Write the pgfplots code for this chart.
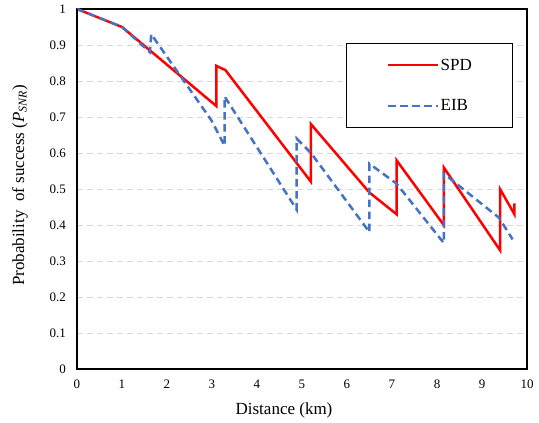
\documentclass[border=0pt]{standalone}
\usepackage{fontspec}
\setmainfont{Liberation Serif}
\usepackage{pgfplots}
\pgfplotsset{compat=1.18}
\definecolor{spdred}{HTML}{FF0000}
\definecolor{eibblue}{HTML}{4472C4}
\definecolor{gridgray}{HTML}{D9D9D9}
\begin{document}
\begin{tikzpicture}
\begin{axis}[name=ax,
    width=450pt, height=360pt, scale only axis,
    xmin=0, xmax=10, ymin=0, ymax=1,
    xtick={0,1,2,3,4,5,6,7,8,9,10},
    ytick={0,0.1,0.2,0.3,0.4,0.5,0.6,0.7,0.8,0.9,1},
    /pgf/number format/assume math mode=true,
    yticklabel style={/pgf/number format/fixed, /pgf/number format/precision=1,
        inner xsep=0pt, xshift=-11pt},
    xticklabel style={inner ysep=0pt, yshift=-11pt},
    tick label style={font=\fontsize{13}{15}\selectfont},
    major tick length=0pt,
    axis line style={black, line width=1.2pt},
    ymajorgrids,
    major grid style={gridgray, line width=0.8pt, dash pattern=on 6pt off 4pt},
    xlabel={Distance (km)},
    ylabel={Probability\ \ of success (\textit{P}\textsubscript{\textit{SNR}})},
    label style={font=\fontsize{17}{20}\selectfont},
    xlabel style={at={(axis description cs:0.46,-0.1139)}, anchor=center},
    ylabel style={at={(axis description cs:-0.1267,0.51)}, anchor=center},
    legend style={at={(0.9696,0.9047)}, anchor=north east, draw=black,
        line width=1pt, inner xsep=41pt, inner ysep=15pt, row sep=28pt,
        font=\fontsize{17}{20}\selectfont, nodes={inner sep=0pt},
        /tikz/every odd column/.append style={column sep=1pt}},
    legend cell align=left,
    legend image code/.code={\draw[#1] (0pt,0pt) -- (50pt,0pt);},
]
\addplot[spdred, line width=2.5pt] coordinates {
    (0,1) (1,0.95) (3.1,0.73) (3.1,0.842) (3.3,0.83) (5.2,0.52) (5.2,0.68)
    (6.5,0.49) (7.1,0.43) (7.1,0.58) (8.15,0.40) (8.15,0.56) (9.4,0.33)
    (9.4,0.50) (9.72,0.43) (9.72,0.46)
};
\addlegendentry{SPD}
\addplot[eibblue, line width=2.5pt, dash pattern=on 7.5pt off 4.5pt] coordinates {
    (0,1) (1,0.95) (1.62,0.88) (1.65,0.93) (2.99,0.69) (3.28,0.62) (3.28,0.757)
    (4.88,0.443) (4.88,0.64) (5.2,0.60) (6.5,0.38) (6.5,0.57) (7.1,0.515)
    (8.15,0.35) (8.15,0.543) (9.38,0.42) (9.68,0.36)
};
\addlegendentry{EIB}
\end{axis}
\draw[black, line width=2pt] (ax.north west) -- (ax.south west) -- (ax.south east);
\path (ax.south west) ++(-77pt,-54pt) rectangle ++(539pt,423pt);
\end{tikzpicture}
\end{document}
